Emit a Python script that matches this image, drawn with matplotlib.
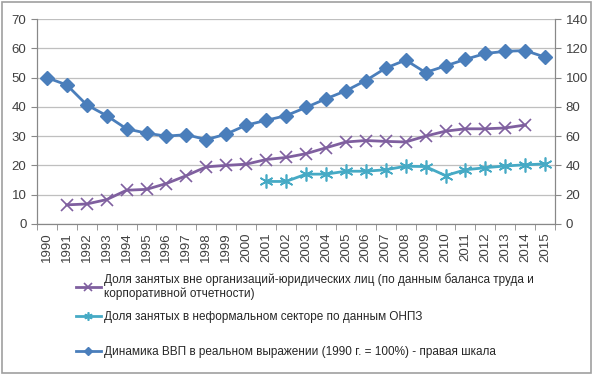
import matplotlib
matplotlib.use('Agg')
import matplotlib.pyplot as plt
from matplotlib.patches import Rectangle
import numpy as np

plt.rcParams['font.family'] = ['Liberation Sans', 'DejaVu Sans']

years = list(range(1990, 2016))

# Share of employed outside organisations (left scale), 1991-2014
informal_years = list(range(1991, 2015))
informal_share = [6.5, 6.8, 8.3, 11.5, 11.8, 13.8, 16.5, 19.5, 20.0, 20.4, 22.0, 22.7,
                  24.0, 26.0, 28.0, 28.5, 28.2, 28.0, 30.0, 31.7, 32.5, 32.5, 32.8, 33.8]

# Share of employed in informal sector (ONPZ survey), 2001-2015
onpz_years = list(range(2001, 2016))
onpz_share = [14.5, 14.5, 17.0, 17.0, 18.0, 18.0, 18.5, 19.7, 19.6, 16.5, 18.5, 19.2,
              19.8, 20.2, 20.5]

# Real GDP index, 1990 = 100 (right scale)
gdp_index = [100, 95, 81.4, 74, 65, 62, 60, 61, 57.6, 61.4, 67.5, 70.8, 74, 79.6, 85.5,
             91, 98, 106.5, 112, 103.5, 108, 112.5, 116.5, 118, 118.5, 114]

labels = [
    'Доля занятых вне организаций-юридических лиц (по данным баланса труда и\nкорпоративной отчетности)',
    'Доля занятых в неформальном секторе по данным ОНПЗ',
    'Динамика ВВП в реальном выражении (1990 г. = 100%) - правая шкала',
]

c_purple = '#7F5F9F'
c_cyan = '#46AAC5'
c_blue = '#4A7EBB'
grid_c = '#BFBFBF'
text_c = '#404040'

fig = plt.figure(figsize=(5.95, 3.75), dpi=100)
ax = fig.add_axes([0.062, 0.403, 0.871, 0.546])
ax2 = ax.twinx()

x_all = np.arange(len(years))
x_inf = [years.index(y) for y in informal_years]
x_onpz = [years.index(y) for y in onpz_years]

l1, = ax.plot(x_inf, informal_share, color=c_purple, lw=2, marker='x', ms=9, mew=1.2)
l2, = ax.plot(x_onpz, onpz_share, color=c_cyan, lw=2, marker=(6, 2, 0), ms=10, mew=1.2)
l3, = ax2.plot(x_all, gdp_index, color=c_blue, lw=2, marker='D', ms=7)

ax.set_xlim(-0.5, len(years) - 0.5)
ax.set_ylim(0, 70)
ax.set_yticks(range(0, 71, 10))
ax2.set_ylim(0, 140)
ax2.set_yticks(range(0, 141, 20))

ax.set_xticks(x_all)
ax.set_xticklabels([str(y) for y in years], rotation=90)
ax.set_xticks(np.arange(-0.5, len(years), 1), minor=True)
ax.tick_params(axis='x', which='major', length=0, pad=6, labelsize=9.5, colors=text_c)
ax.tick_params(axis='x', which='minor', length=4, color='#888888')
ax.tick_params(axis='y', length=4, color='#888888', labelsize=9.5, labelcolor=text_c)
ax2.tick_params(axis='y', length=4, color='#888888', labelsize=9.5, labelcolor=text_c)

ax.grid(axis='y', color=grid_c, lw=0.9)
ax.set_axisbelow(True)
for a in (ax, ax2):
    a.spines['top'].set_visible(False)
    for s in ('left', 'right', 'bottom'):
        a.spines[s].set_color('#888888')

leg_kw = dict(frameon=False, fontsize=8.5, handlelength=2.1, handletextpad=0.3,
              markerscale=0.6)
leg1 = fig.legend([l1, l2], labels[:2], loc='upper left', bbox_to_anchor=(0.11, 0.301),
                  labelspacing=0.95, **leg_kw)
leg2 = fig.legend([l3], labels[2:], loc='center left', bbox_to_anchor=(0.11, 0.062),
                  **leg_kw)
for lg in (leg1, leg2):
    for t in lg.get_texts():
        t.set_color('#262626')

fig.patches.append(Rectangle((0.004, 0.006), 0.99, 0.988, transform=fig.transFigure,
                             fill=False, edgecolor='#A0A0A0', lw=1.2))

fig.savefig('out.png', dpi=100)
